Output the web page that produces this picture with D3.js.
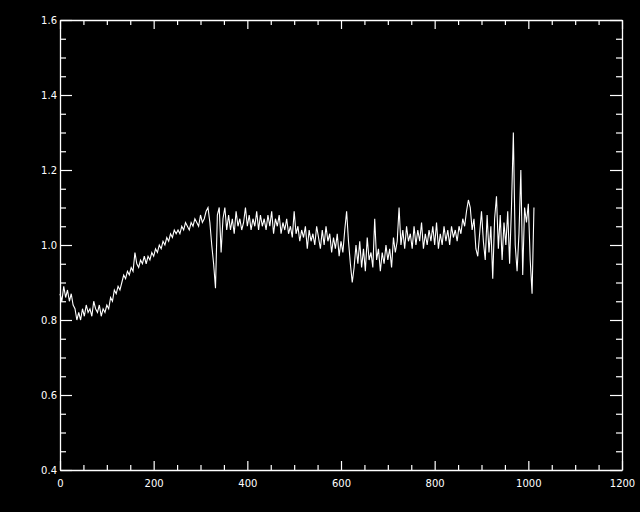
<!DOCTYPE html>
<html>
<head>
<meta charset="utf-8">
<script src="https://cdn.jsdelivr.net/npm/d3@7"></script>
<style>
html,body{margin:0;padding:0;background:#000;}
svg{display:block;}
text{font-family:"DejaVu Sans",sans-serif;font-size:10px;fill:#fff;}
</style>
</head>
<body>
<svg id="chart" width="640" height="512"></svg>
<script>
// ---- data ----
const sampleSpacing = 4; // x units between consecutive samples, first sample at x = 0
const signal = [
  0.87,0.85,0.89,0.86,0.88,0.85,0.87,0.84,0.83,0.80,
  0.82,0.80,0.83,0.81,0.84,0.82,0.83,0.81,0.85,0.83,
  0.82,0.84,0.81,0.83,0.82,0.84,0.83,0.86,0.85,0.88,
  0.87,0.89,0.88,0.90,0.92,0.91,0.93,0.92,0.94,0.93,
  0.98,0.95,0.94,0.96,0.95,0.97,0.95,0.97,0.96,0.98,
  0.97,0.99,0.98,1.00,0.99,1.01,1.00,1.02,1.01,1.03,
  1.02,1.04,1.03,1.04,1.03,1.05,1.04,1.06,1.05,1.04,
  1.06,1.05,1.07,1.06,1.05,1.08,1.06,1.07,1.09,1.10,
  1.06,1.00,0.95,0.885,1.08,1.10,0.98,1.07,1.10,1.04,
  1.08,1.04,1.07,1.03,1.09,1.05,1.07,1.04,1.06,1.10,
  1.05,1.08,1.04,1.07,1.05,1.09,1.04,1.08,1.05,1.07,
  1.04,1.08,1.05,1.09,1.03,1.07,1.05,1.08,1.03,1.06,
  1.04,1.07,1.03,1.05,1.02,1.09,1.03,1.05,1.01,1.04,
  1.02,1.05,0.99,1.04,1.01,1.03,1.00,1.05,1.02,0.99,
  1.04,1.00,1.05,1.01,1.03,0.98,1.02,0.99,1.03,0.97,
  1.01,0.98,1.04,1.09,1.01,0.95,0.90,0.94,1.00,0.95,
  1.01,0.94,0.99,0.93,1.02,0.96,0.98,0.94,1.07,0.96,
  0.99,0.93,0.98,0.95,1.00,0.96,0.99,0.94,1.02,0.98,
  1.01,1.10,1.00,1.04,0.99,1.05,1.01,1.03,0.99,1.05,
  1.00,1.04,1.01,1.06,0.99,1.03,1.00,1.04,1.01,1.05,
  1.00,1.06,0.99,1.03,1.00,1.05,1.01,1.04,1.00,1.05,
  1.02,1.04,1.01,1.05,1.03,1.07,1.05,1.09,1.12,1.10,
  1.04,1.07,0.99,0.97,1.03,1.09,1.01,0.96,1.08,0.98,
  1.05,0.91,1.07,1.13,0.99,1.08,0.96,1.06,1.00,1.09,
  0.95,1.10,1.30,1.00,0.93,1.03,1.20,0.92,1.10,1.06,
  1.11,0.96,0.87,1.10
];
const xDomain = [0, 1200];
const yDomain = [0.4, 1.6];
const xTickValues = [0, 200, 400, 600, 800, 1000, 1200];
const yTickValues = [0.4, 0.6, 0.8, 1.0, 1.2, 1.4, 1.6];
const xMinorStep = 50;
const yMinorStep = 0.05;

// ---- layout ----
const L = 60, R = 622, T = 20, B = 470;
const svg = d3.select("#chart");
svg.append("rect").attr("width",640).attr("height",512).attr("fill","#000");

const x = d3.scaleLinear().domain(xDomain).range([L, R]);
const y = d3.scaleLinear().domain(yDomain).range([B, T]);

const xMinor = d3.range(xDomain[0], xDomain[1] + 1e-9, xMinorStep);
const yMinor = d3.range(0, 25).map(i => +(yDomain[0] + i * yMinorStep).toFixed(2));

function isMajorX(v){ return xTickValues.some(t => Math.abs(t - v) < 1e-6); }
function isMajorY(v){ return yTickValues.some(t => Math.abs(t - v) < 1e-6); }

const fmtY = d3.format(".1f");

// bottom axis
const xAxisB = d3.axisBottom(x).tickValues(xMinor).tickSizeOuter(0).tickSizeInner(0)
  .tickFormat(d => isMajorX(d) ? String(d) : "");
const gB = svg.append("g").attr("transform",`translate(0,${B})`).call(xAxisB);
gB.selectAll(".tick line").attr("y2", d => isMajorX(d) ? -9 : -5);
gB.selectAll(".tick text").attr("dy", null).attr("y", 17);

// top axis
const gT = svg.append("g").attr("transform",`translate(0,${T})`)
  .call(d3.axisTop(x).tickValues(xMinor).tickSizeOuter(0).tickSizeInner(0).tickFormat(""));
gT.selectAll(".tick line").attr("y2", d => isMajorX(d) ? 9 : 5);

// left axis
const yAxisL = d3.axisLeft(y).tickValues(yMinor).tickSizeOuter(0).tickSizeInner(0)
  .tickFormat(d => isMajorY(d) ? fmtY(d) : "");
const gL = svg.append("g").attr("transform",`translate(${L},0)`).call(yAxisL);
gL.selectAll(".tick line").attr("x2", d => isMajorY(d) ? 12 : 6);
gL.selectAll(".tick text").attr("x", -3);

// right axis
const gR = svg.append("g").attr("transform",`translate(${R},0)`)
  .call(d3.axisRight(y).tickValues(yMinor).tickSizeOuter(0).tickSizeInner(0).tickFormat(""));
gR.selectAll(".tick line").attr("x2", d => isMajorY(d) ? -12 : -6);

svg.selectAll(".domain").attr("stroke","#fff").attr("stroke-width",1.3);
svg.selectAll(".tick line").attr("stroke","#fff").attr("stroke-width",1.2);
svg.selectAll(".tick text").attr("fill","#fff")
  .style("font-family","'DejaVu Sans',sans-serif").style("font-size","10px");

// line
const line = d3.line()
  .x((d,i) => x(i * sampleSpacing))
  .y(d => y(d));
svg.append("path").datum(signal)
  .attr("d", line)
  .attr("fill","none")
  .attr("stroke","#fff")
  .attr("stroke-width",1.1);
</script>
</body>
</html>
